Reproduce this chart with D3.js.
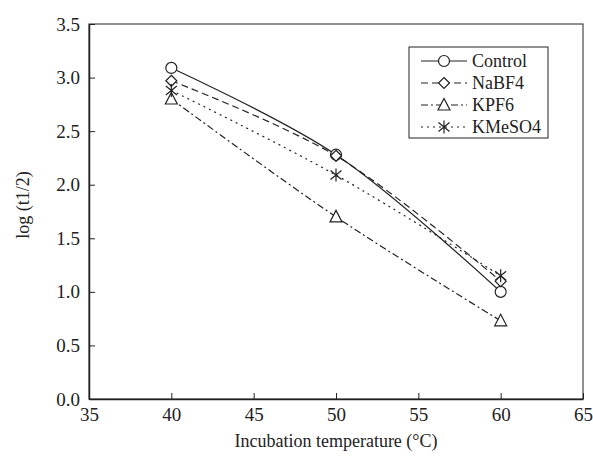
<!DOCTYPE html>
<html>
<head>
<meta charset="utf-8">
<script src="https://cdn.jsdelivr.net/npm/d3@7"></script>
<style>
  body { margin: 0; background: #fff; }
</style>
</head>
<body>
<div id="chart-area"></div>
<script>
// data
var temps = [40, 50, 60];
var seriesNames = ["Control", "NaBF4", "KPF6", "KMeSO4"];
var control = [3.09, 2.28, 1.00];
var nabf4 = [2.97, 2.27, 1.10];
var kpf6 = [2.80, 1.70, 0.73];
var kmeso4 = [2.88, 2.09, 1.15];
var xTicks = [35, 40, 45, 50, 55, 60, 65];
var yTicks = [0, 0.5, 1, 1.5, 2, 2.5, 3, 3.5];

var serif = "'Liberation Serif', 'Times New Roman', serif";

var margin = { left: 89, right: 10, top: 24, bottom: 58 },
  width = 593 - margin.left - margin.right,
  height = 457 - margin.top - margin.bottom;

var svg = d3.select("#chart-area").append("svg")
  .attr("width", 593)
  .attr("height", 457);
var g = svg.append("g")
  .attr("transform", "translate(" + margin.left + "," + margin.top + ")");

var x = d3.scaleLinear().domain([35, 65]).range([0, width]);
var y = d3.scaleLinear().domain([0, 3.5]).range([height, 0]);

// frame
g.append("rect")
  .attr("width", width).attr("height", height)
  .attr("fill", "none").attr("stroke", "#222").attr("stroke-width", 1);

// axes, ticks inside
var xAxis = g.append("g")
  .attr("transform", "translate(0," + height + ")")
  .call(d3.axisBottom(x).tickValues(xTicks).tickSizeInner(-6).tickSizeOuter(0).tickPadding(9));
var yAxis = g.append("g")
  .call(d3.axisLeft(y).tickValues(yTicks).tickFormat(d3.format(".1f")).tickSizeInner(-6).tickSizeOuter(0).tickPadding(9));
[xAxis, yAxis].forEach(function(a) {
  a.attr("font-family", null).attr("font-size", null);
  a.selectAll("path").attr("stroke", "#222").attr("stroke-width", 1.5);
  a.selectAll("line").attr("stroke", "#222");
  a.selectAll("text")
    .style("font-family", serif).style("font-size", "19px")
    .attr("fill", "#222");
});

// labels
g.append("text")
  .attr("x", width / 2).attr("y", height + 48)
  .attr("text-anchor", "middle")
  .style("font-family", serif).style("font-size", "18px").attr("fill", "#222")
  .text("Incubation temperature (\u00B0C)");
g.append("text")
  .attr("transform", "rotate(-90)")
  .attr("x", -205 + margin.top).attr("y", -60)
  .attr("text-anchor", "middle")
  .style("font-family", serif).style("font-size", "18px").attr("fill", "#222")
  .text("log (t1/2)");

var series = [
  { name: seriesNames[0], values: control, dash: null, marker: "circle" },
  { name: seriesNames[1], values: nabf4, dash: "7,4", marker: "diamond" },
  { name: seriesNames[2], values: kpf6, dash: "7,3,2,3", marker: "triangle" },
  { name: seriesNames[3], values: kmeso4, dash: "2,4", marker: "asterisk" }
];

var line = d3.line()
  .x(function(d) { return x(d.t); })
  .y(function(d) { return y(d.v); })
  .curve(d3.curveCatmullRom.alpha(0.5));

function drawMarker(sel, type) {
  if (type === "circle") {
    sel.append("circle").attr("r", 5.5).attr("fill", "#fff").attr("stroke", "#222").attr("stroke-width", 1.2);
  } else if (type === "diamond") {
    sel.append("path").attr("d", "M0,-5.5L5.5,0L0,5.5L-5.5,0Z").attr("fill", "#fff").attr("stroke", "#222").attr("stroke-width", 1.2);
  } else if (type === "triangle") {
    sel.append("path").attr("d", "M0,-6.5L6,5L-6,5Z").attr("fill", "#fff").attr("stroke", "#222").attr("stroke-width", 1.2);
  } else {
    sel.append("path").attr("d", "M0,-6.5L0,6.5M-5.5,-4.5L5.5,4.5M-5.5,4.5L5.5,-4.5").attr("fill", "none").attr("stroke", "#222").attr("stroke-width", 1.2);
  }
}

series.forEach(function(s) {
  var pts = temps.map(function(t, i) { return { t: t, v: s.values[i] }; });
  g.append("path")
    .attr("d", line(pts))
    .attr("fill", "none")
    .attr("stroke", "#222")
    .attr("stroke-width", 1.2)
    .attr("stroke-dasharray", s.dash);
  pts.forEach(function(p) {
    var m = g.append("g").attr("transform", "translate(" + x(p.t) + "," + y(p.v) + ")");
    drawMarker(m, s.marker);
  });
});

// legend
var legend = g.append("g").attr("transform", "translate(" + (409 - margin.left) + "," + (47 - margin.top) + ")");
legend.append("rect")
  .attr("width", 139).attr("height", 91)
  .attr("fill", "#fff").attr("stroke", "#222").attr("stroke-width", 1);
series.forEach(function(s, i) {
  var row = legend.append("g").attr("transform", "translate(0," + (14 + i * 22) + ")");
  row.append("line")
    .attr("x1", 12).attr("x2", 58)
    .attr("stroke", "#222").attr("stroke-width", 1.2)
    .attr("stroke-dasharray", s.dash);
  var m = row.append("g").attr("transform", "translate(35,0)");
  drawMarker(m, s.marker);
  row.append("text")
    .attr("x", 63).attr("y", 6)
    .style("font-family", serif).style("font-size", "18px").attr("fill", "#222")
    .text(s.name);
});
</script>
</body>
</html>
